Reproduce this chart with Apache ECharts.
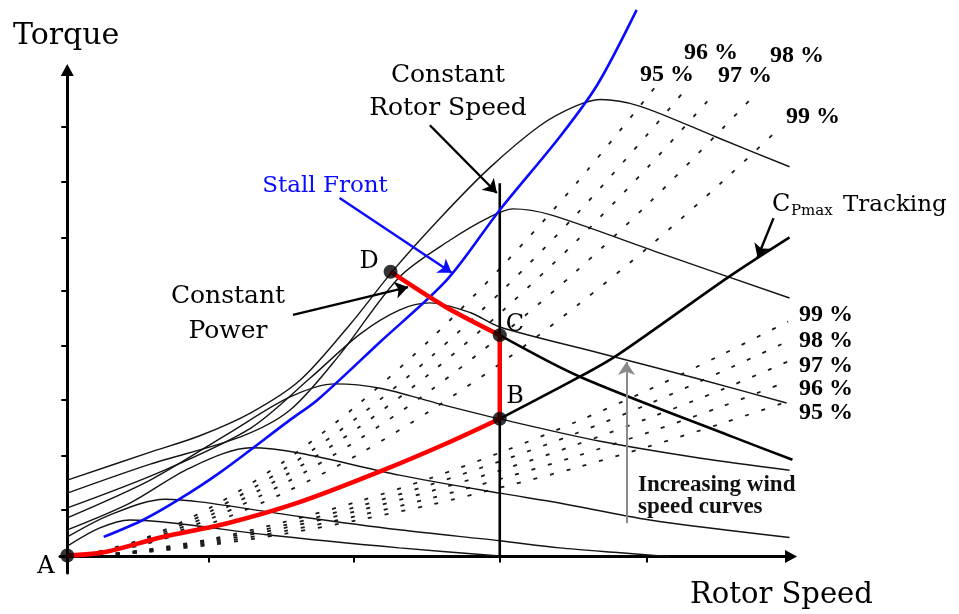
<!DOCTYPE html>
<html>
<head>
<meta charset="utf-8">
<title>Torque vs Rotor Speed</title>
<script src="https://cdn.jsdelivr.net/npm/echarts@6/dist/echarts.min.js"></script>
<style>
  html, body { margin: 0; padding: 0; background: #fff; }
  #chart { width: 959px; height: 614px; }
</style>
</head>
<body>
<div id="chart"></div>
<script>
// Axis tick positions (rotor speed, torque) in per-unit scale
const speedTicks = [0.97, 1.97, 2.97, 3.98];
const torqueTicks = [0.86, 1.85, 2.86, 3.85, 4.86, 5.84, 6.85, 7.86];

// Turbine torque-speed curves, lowest to highest wind speed  [speed, torque]
const windCurve1 = [[0,0.19],[0.22,0.52],[0.43,0.67],[0.74,0.61],[1.37,0.40],[2.28,0.16],[2.97,0.01]];
const windCurve2 = [[0,0.36],[0.29,0.76],[0.67,1.05],[0.91,1.00],[1.60,0.73],[2.28,0.49],[2.97,0.29],[3.38,0.16],[3.80,0.07],[4.14,0]];
const windCurve3 = [[0,0.49],[0.43,0.98],[0.84,1.62],[1.26,1.99],[1.60,1.89],[2.28,1.49],[2.97,1.16],[3.38,0.98],[4.00,0.67],[4.96,0.35]];
const windCurve4 = [[0,0.71],[0.57,1.40],[1.10,2.24],[1.53,2.92],[1.84,3.16],[2.15,3.08],[2.56,2.79],[2.97,2.52],[3.66,2.11],[4.35,1.80],[4.96,1.58]];
const windCurve5 = [[0,0.89],[0.64,1.55],[1.26,2.35],[1.67,3.27],[2.01,4.07],[2.28,4.51],[2.49,4.64],[2.77,4.46],[2.97,4.20],[3.66,3.72],[4.35,3.24],[4.94,2.81]];
const windCurve6 = [[0,1.16],[0.57,1.69],[1.19,2.19],[1.53,2.68],[1.87,3.69],[2.28,5.11],[2.63,5.79],[2.90,6.21],[3.06,6.36],[3.32,6.25],[4.07,5.55],[4.96,4.73]];
const windCurve7 = [[0,1.40],[0.57,1.91],[0.91,2.21],[1.26,2.63],[1.60,3.23],[1.94,4.24],[2.24,5.24],[2.56,6.19],[2.90,7.11],[3.25,7.89],[3.49,8.24],[3.66,8.36],[3.93,8.24],[4.46,7.67],[4.96,7.13]];

// Efficiency contours (share of Cp,max), low tip-speed-ratio side
const effHigh95 = [[0.1,0.023],[0.5,0.304],[1,0.92],[1.5,1.76],[2,2.79],[2.5,3.99],[3,5.35],[3.5,6.84],[4.05,8.63]];
const effHigh96 = [[0.1,0.021],[0.5,0.279],[1,0.85],[1.5,1.62],[2,2.56],[2.5,3.66],[3,4.90],[3.5,6.27],[4,7.77],[4.26,8.59]];
const effHigh97 = [[0.1,0.020],[0.5,0.257],[1,0.78],[1.5,1.49],[2,2.36],[2.5,3.37],[3,4.52],[3.5,5.78],[4,7.16],[4.44,8.46]];
const effHigh98 = [[0.1,0.018],[0.5,0.233],[1,0.71],[1.5,1.35],[2,2.14],[2.5,3.05],[3,4.09],[3.5,5.23],[4,6.48],[4.5,7.83],[4.74,8.50]];
const effHigh99 = [[0.1,0.016],[0.5,0.204],[1,0.62],[1.5,1.18],[2,1.87],[2.5,2.68],[3,3.58],[3.5,4.59],[4,5.68],[4.5,6.86],[4.90,7.86]];
// Efficiency contours, high tip-speed-ratio side
const effLow99 = [[0.1,0.008],[0.5,0.110],[1,0.33],[1.5,0.64],[2,1.01],[2.5,1.44],[3,1.93],[3.5,2.47],[4,3.06],[4.5,3.70],[4.95,4.30]];
const effLow98 = [[0.1,0.008],[0.5,0.101],[1,0.31],[1.5,0.58],[2,0.92],[2.5,1.32],[3,1.77],[3.5,2.26],[4,2.80],[4.5,3.39],[4.95,3.94]];
const effLow97 = [[0.1,0.007],[0.5,0.091],[1,0.28],[1.5,0.53],[2,0.84],[2.5,1.20],[3,1.60],[3.5,2.05],[4,2.54],[4.5,3.06],[4.95,3.57]];
const effLow96 = [[0.1,0.006],[0.5,0.082],[1,0.25],[1.5,0.47],[2,0.75],[2.5,1.07],[3,1.44],[3.5,1.84],[4,2.28],[4.5,2.75],[4.95,3.21]];
const effLow95 = [[0.1,0.006],[0.5,0.073],[1,0.22],[1.5,0.42],[2,0.67],[2.5,0.95],[3,1.28],[3.5,1.63],[4,2.02],[4.5,2.44],[4.95,2.84]];

// Stall front
const stallFront = [[0.25,0.36],[0.52,0.67],[0.77,1.05],[1.05,1.54],[1.53,2.50],[1.72,2.87],[2.15,3.93],[2.61,5.07],[2.97,6.34],[3.38,7.67],[3.64,8.63],[3.91,10.0]];

// Cp,max tracking: A -> B (controlled path) and beyond B
const cpmaxPath = [[0,0.02],[0.25,0.08],[0.64,0.35],[1.10,0.61],[1.60,1.00],[2.17,1.58],[2.63,2.10],[2.97,2.52]];
const cpmaxBeyond = [[2.97,2.52],[3.52,3.29],[3.78,3.69],[4.55,5.13],[4.96,5.84]];
// Constant rotor speed segment B -> C and constant power C -> D
const speedLimitPath = [[2.97,2.52],[2.97,4.05]];
const powerLimitPath = [[2.97,4.05],[2.59,4.58],[2.22,5.21]];
const powerBeyond = [[2.97,4.05],[3.52,3.29],[4.57,2.19],[4.98,1.77]];
const ratedSpeedLine = [[2.97,0],[2.97,6.83]];

// Operating points A, B, C, D
const operatingPoints = [[0,0.02],[2.97,2.52],[2.97,4.05],[2.22,5.21]];
const pointNames = ['A','B','C','D'];

const windCurves = [windCurve1, windCurve2, windCurve3, windCurve4, windCurve5, windCurve6, windCurve7];
const effContours = [effHigh95, effHigh96, effHigh97, effHigh98, effHigh99, effLow99, effLow98, effLow97, effLow96, effLow95];

const SERIF = '"DejaVu Serif", "Liberation Serif", serif';
const BOLD = '"Liberation Serif", "DejaVu Serif", serif';

function plainLine(data, color, width, z, extra) {
  return Object.assign({
    type: 'line', data: data, symbol: 'none', clip: false, silent: true,
    animation: false, z: z,
    lineStyle: { color: color, width: width }
  }, extra || {});
}

const series = [];
effContours.forEach(d => series.push(plainLine(d, '#1a1a1a', 1.8, 1, {
  smooth: 0.3,
  lineStyle: { color: '#1a1a1a', width: 1.8, type: [4, 13] }
})));
windCurves.forEach(d => series.push(plainLine(d, '#141414', 1.4, 2, { smooth: 0.3 })));
series.push(plainLine(ratedSpeedLine, '#000', 2.6, 3));
series.push(plainLine(cpmaxBeyond, '#000', 2.6, 3, { smooth: 0.3 }));
series.push(plainLine(powerBeyond, '#000', 2.6, 3, { smooth: 0.3 }));
series.push(plainLine(stallFront, '#0a0aff', 2.6, 4, { smooth: 0.3 }));
series.push(plainLine(cpmaxPath, '#ff0000', 4.5, 5, { smooth: 0.3 }));
series.push(plainLine(speedLimitPath, '#ff0000', 4.5, 5));
series.push(plainLine(powerLimitPath, '#ff0000', 4.5, 5, { smooth: 0.3 }));
series.push({
  type: 'scatter', data: operatingPoints, symbol: 'circle', symbolSize: 14,
  itemStyle: { color: '#000' }, z: 10, clip: false, silent: true, animation: false
});

// Annotation arrows
series.push({
  type: 'lines', coordinateSystem: 'cartesian2d', polyline: false,
  symbol: ['none', 'arrow'], symbolSize: 13, z: 6, silent: true, animation: false,
  lineStyle: { color: '#000', width: 2.4, opacity: 1, curveness: 0 },
  data: [
    { coords: [[1.87, 6.56], [2.64, 5.19]], lineStyle: { color: '#0a0aff', width: 2.4, opacity: 1 } },
    { coords: [[2.49, 7.89], [2.95, 6.65]] },
    { coords: [[1.55, 4.42], [2.34, 4.93]] },
    { coords: [[4.85, 6.19], [4.74, 5.47]] },
    { coords: [[3.84, 0.61], [3.84, 3.56]], lineStyle: { color: '#8a8a8a', width: 2, opacity: 1 } }
  ]
});

function txt(x, y, text, font, fill, align) {
  return { type: 'text', x: x, y: y, silent: true, z: 20,
    style: { text: text, font: font, fill: fill || '#000', align: align || 'center', verticalAlign: 'middle' } };
}

const graphic = [
  txt(13, 36, 'Torque', '30px ' + SERIF, '#000', 'left'),
  txt(690, 595, 'Rotor Speed', '29px ' + SERIF, '#000', 'left'),
  txt(448, 75, 'Constant', '25px ' + SERIF),
  txt(448, 108, 'Rotor Speed', '25px ' + SERIF),
  txt(228, 296, 'Constant', '25px ' + SERIF),
  txt(228, 331, 'Power', '25px ' + SERIF),
  txt(325, 186, 'Stall Front', '23px ' + SERIF, '#0a0aff'),
  txt(772, 205, 'C', '24px ' + SERIF, '#000', 'left'),
  txt(791, 211, 'Pmax', '15px ' + SERIF, '#000', 'left'),
  txt(843, 205, 'Tracking', '23px ' + SERIF, '#000', 'left'),
  txt(46, 567, pointNames[0], '24px ' + SERIF),
  txt(515, 397, pointNames[1], '24px ' + SERIF),
  txt(515, 325, pointNames[2], '24px ' + SERIF),
  txt(369, 262, pointNames[3], '24px ' + SERIF),
  txt(638, 485, 'Increasing wind', 'bold 23px ' + BOLD, '#111', 'left'),
  txt(638, 507, 'speed curves', 'bold 23px ' + BOLD, '#111', 'left'),
  txt(667, 75, '95 %', 'bold 24px ' + BOLD),
  txt(711, 53, '96 %', 'bold 24px ' + BOLD),
  txt(745, 76, '97 %', 'bold 24px ' + BOLD),
  txt(797, 56, '98 %', 'bold 24px ' + BOLD),
  txt(813, 117, '99 %', 'bold 24px ' + BOLD),
  txt(826, 315, '99 %', 'bold 24px ' + BOLD),
  txt(826, 341, '98 %', 'bold 24px ' + BOLD),
  txt(826, 366, '97 %', 'bold 24px ' + BOLD),
  txt(826, 389, '96 %', 'bold 24px ' + BOLD),
  txt(826, 413, '95 %', 'bold 24px ' + BOLD)
];

const chart = echarts.init(document.getElementById('chart'), null, { renderer: 'canvas' });
chart.setOption({
  animation: false,
  backgroundColor: '#fff',
  grid: { left: 60, top: 70, width: 731, height: 503 },
  xAxis: {
    type: 'value', min: -0.05, max: 4.97,
    axisLine: { onZero: true, symbol: ['none', 'triangle'], symbolSize: [13, 12], lineStyle: { color: '#000', width: 3 } },
    axisTick: { show: true, length: 6, customValues: speedTicks, lineStyle: { color: '#000', width: 2 } },
    axisLabel: { show: false },
    splitLine: { show: false }
  },
  yAxis: {
    type: 'value', min: -0.3, max: 8.9,
    axisLine: { onZero: true, symbol: ['none', 'triangle'], symbolSize: [13, 12], lineStyle: { color: '#000', width: 3 } },
    axisTick: { show: true, length: 6, customValues: torqueTicks, lineStyle: { color: '#000', width: 2 } },
    axisLabel: { show: false },
    splitLine: { show: false }
  },
  series: series,
  graphic: graphic
});
</script>
</body>
</html>
